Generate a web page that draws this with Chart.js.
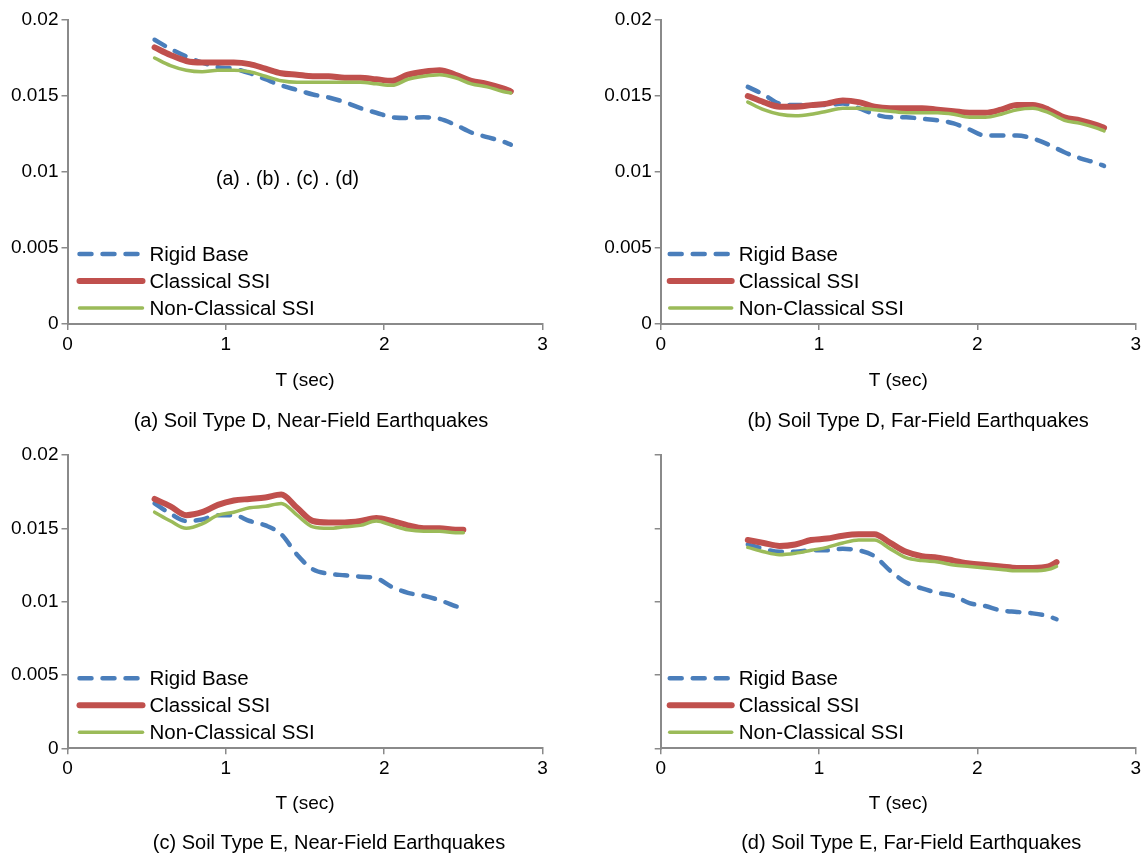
<!DOCTYPE html>
<html>
<head>
<meta charset="utf-8">
<script src="https://cdn.jsdelivr.net/npm/chart.js@4.4.1/dist/chart.umd.min.js"></script>
<style>
html,body{margin:0;padding:0;background:#fff;}
body{width:1146px;height:853px;position:relative;overflow:hidden;}
canvas{position:absolute;display:block;}
</style>
</head>
<body>
<canvas id="cA" width="575" height="433" style="left:0px;top:0px"></canvas>
<canvas id="cB" width="566" height="433" style="left:580px;top:0px"></canvas>
<canvas id="cC" width="575" height="420" style="left:0px;top:433px"></canvas>
<canvas id="cD" width="566" height="420" style="left:580px;top:433px"></canvas>
<script>
// ---------------- DATA ----------------
const seriesNames = ['Rigid Base', 'Classical SSI', 'Non-Classical SSI'];
const xTickLabels = ['0', '1', '2', '3'];
const yTickLabels = ['0', '0.005', '0.01', '0.015', '0.02'];
const xAxisTitle = 'T (sec)';
const captions = [
  '(a) Soil Type D, Near-Field Earthquakes',
  '(b) Soil Type D, Far-Field Earthquakes',
  '(c) Soil Type E, Near-Field Earthquakes',
  '(d) Soil Type E, Far-Field Earthquakes'
];
const annotationText = '(a) . (b) . (c) . (d)';

// periods T (sec)
const periodsD = [0.55,0.65,0.75,0.85,0.95,1.05,1.15,1.25,1.35,1.45,1.55,1.65,1.75,1.85,1.95,2.05,2.15,2.25,2.35,2.45,2.55,2.65,2.75,2.80];
const periodsE = [0.55,0.65,0.75,0.85,0.95,1.05,1.15,1.25,1.35,1.45,1.55,1.65,1.75,1.85,1.95,2.05,2.15,2.25,2.35,2.45,2.50];

// (a) Soil D, near-field
const rigidA        = [0.0187,0.0181,0.0176,0.0172,0.0169,0.0168,0.0165,0.0161,0.0157,0.0154,0.0151,0.0149,0.0146,0.0142,0.0139,0.0136,0.01355,0.0136,0.0135,0.0131,0.0126,0.0123,0.0120,0.0118];
const classicalA    = [0.0182,0.0177,0.0173,0.0172,0.0172,0.0172,0.0171,0.0168,0.0165,0.0164,0.0163,0.0163,0.0162,0.0162,0.0161,0.0160,0.0164,0.0166,0.0167,0.0164,0.0160,0.0158,0.0155,0.0153];
const nonClassicalA = [0.0175,0.0170,0.0167,0.0166,0.0167,0.0167,0.0166,0.0163,0.0160,0.0159,0.0159,0.0159,0.0159,0.0159,0.0158,0.0157,0.0161,0.0163,0.0164,0.0162,0.0158,0.0156,0.0153,0.0152];

// (b) Soil D, far-field
const rigidB        = [0.0156,0.0151,0.0145,0.0144,0.0144,0.0144,0.0145,0.0142,0.0138,0.0136,0.0136,0.0135,0.0134,0.0132,0.0128,0.0124,0.0124,0.0124,0.0122,0.0118,0.0113,0.0109,0.0106,0.0104];
const classicalB    = [0.0150,0.0146,0.0143,0.0143,0.0144,0.0145,0.0147,0.0146,0.0143,0.0142,0.0142,0.0142,0.0141,0.0140,0.0139,0.0139,0.0141,0.0144,0.0144,0.0141,0.0136,0.0134,0.0131,0.0129];
const nonClassicalB = [0.0146,0.0141,0.0138,0.0137,0.0138,0.0140,0.0142,0.0142,0.0141,0.0140,0.0139,0.0139,0.0139,0.0138,0.0136,0.0136,0.0138,0.0141,0.0142,0.0139,0.0134,0.0132,0.0129,0.0127];

// (c) Soil E, near-field
const rigidC        = [0.0167,0.0160,0.0155,0.0156,0.0159,0.0159,0.0155,0.0152,0.0146,0.0132,0.0122,0.0119,0.0118,0.0117,0.0116,0.0110,0.0106,0.0104,0.0101,0.0097,0.0095];
const classicalC    = [0.0170,0.0165,0.0159,0.0161,0.0166,0.0169,0.0170,0.0171,0.0173,0.0164,0.0155,0.0154,0.0154,0.0155,0.0157,0.0155,0.0152,0.0150,0.0150,0.0149,0.0149];
const nonClassicalC = [0.0161,0.0155,0.0150,0.0153,0.0159,0.0161,0.0164,0.0165,0.0167,0.0159,0.0151,0.0150,0.0151,0.0152,0.0155,0.0152,0.0149,0.0148,0.0148,0.0147,0.0147];

// (d) Soil E, far-field
const rigidD        = [0.0139,0.0136,0.0134,0.0134,0.0135,0.0135,0.0136,0.0135,0.0131,0.0121,0.0113,0.0109,0.0106,0.0104,0.0099,0.0097,0.0094,0.0093,0.0092,0.0090,0.0088];
const classicalD    = [0.0142,0.0140,0.0138,0.0139,0.0142,0.0143,0.0145,0.0146,0.0146,0.0140,0.0134,0.0131,0.0130,0.0128,0.0126,0.0125,0.0124,0.0123,0.0123,0.0124,0.0127];
const nonClassicalD = [0.0137,0.0134,0.0132,0.0133,0.0135,0.0137,0.0140,0.0142,0.0142,0.0136,0.0130,0.0128,0.0127,0.0125,0.0124,0.0123,0.0122,0.0121,0.0121,0.0122,0.0124];

// ---------------- STYLE ----------------
const FONT = '"Liberation Sans", Arial, Helvetica, sans-serif';
const AXIS = '#8a8a8a';
const seriesStyles = [
  {color:'#4A7EBB', width:4.5, dash:[12, 11], order:3},
  {color:'#C0504D', width:6,   dash:[],       order:2},
  {color:'#9BBB59', width:3.5, dash:[],       order:1}
];

const decorPlugin = {
  id: 'decor',
  afterDraw(chart, args, o) {
    const ctx = chart.ctx, ca = chart.chartArea;
    ctx.save();
    // legend inside plot area
    chart.data.datasets.forEach((ds, i) => {
      const y = ca.bottom - o.legendRows[i];
      ctx.beginPath();
      ctx.strokeStyle = ds.borderColor;
      ctx.lineWidth = ds.borderWidth;
      ctx.lineCap = 'round';
      ctx.setLineDash(ds.borderDash || []);
      ctx.moveTo(ca.left + o.legendX0, y);
      ctx.lineTo(ca.left + o.legendX1, y);
      ctx.stroke();
      ctx.setLineDash([]);
      ctx.fillStyle = '#000';
      ctx.font = '20.5px ' + FONT;
      ctx.textAlign = 'left';
      ctx.textBaseline = 'middle';
      ctx.fillText(ds.label, ca.left + o.legendText, y + 1);
    });
    // caption
    ctx.fillStyle = '#000';
    ctx.font = '20px ' + FONT;
    ctx.textAlign = 'center';
    ctx.textBaseline = 'middle';
    ctx.fillText(o.caption, (ca.left + ca.right) / 2 + o.captionDx, ca.bottom + o.captionDy);
    if (o.annotation) {
      ctx.font = '19.5px ' + FONT;
      ctx.fillText(o.annotation, ca.left + o.annX, ca.top + o.annY);
    }
    ctx.restore();
  }
};

function makeChart(id, periods, values, cfg) {
  const datasets = values.map((vals, i) => ({
    label: seriesNames[i],
    data: periods.map((t, k) => ({x: t, y: vals[k]})),
    borderColor: seriesStyles[i].color,
    backgroundColor: seriesStyles[i].color,
    borderWidth: seriesStyles[i].width,
    borderDash: seriesStyles[i].dash,
    borderCapStyle: 'round',
    borderJoinStyle: 'round',
    order: seriesStyles[i].order,
    pointRadius: 0,
    cubicInterpolationMode: 'monotone',
    fill: false
  }));
  const tickFont = {family: FONT, size: 19};
  return new Chart(document.getElementById(id), {
    type: 'line',
    data: {datasets},
    plugins: [decorPlugin],
    options: {
      responsive: false,
      animation: false,
      devicePixelRatio: 1,
      layout: {padding: cfg.padding},
      plugins: {
        legend: {display: false},
        tooltip: {enabled: false},
        title: {display: false},
        decor: cfg.decor
      },
      scales: {
        x: {
          type: 'linear', min: 0, max: 3,
          ticks: {stepSize: 1, autoSkip: false, maxRotation: 0, color: '#000', font: tickFont, padding: 3,
                  callback: (v) => xTickLabels[Math.round(v)]},
          grid: {drawOnChartArea: false, drawTicks: true, tickLength: 6, color: AXIS, lineWidth: 1.5},
          border: {display: true, color: AXIS, width: 2},
          title: {display: true, text: xAxisTitle, color: '#000', font: {family: FONT, size: 19, lineHeight: 1},
                  padding: {top: 0, bottom: cfg.titlePad}},
          afterFit: (s) => { s.height = cfg.xh; }
        },
        y: {
          type: 'linear', min: 0, max: 0.02,
          ticks: {stepSize: 0.005, color: '#000', font: tickFont, padding: 3,
                  callback: (v) => cfg.showY ? yTickLabels[Math.round(v / 0.005)] : ''},
          grid: {drawOnChartArea: false, drawTicks: true, tickLength: 6, color: AXIS, lineWidth: 1.5},
          border: {display: true, color: AXIS, width: 2},
          afterFit: (s) => { s.width = cfg.yw; }
        }
      }
    }
  });
}

const legendLeft  = {legendRows: [70, 43, 16], legendX0: 12, legendX1: 75, legendText: 82};
const legendRight = {legendRows: [70, 43, 16], legendX0: 9,  legendX1: 71, legendText: 78};

makeChart('cA', periodsD, [rigidA, classicalA, nonClassicalA], {
  padding: {left: 0, top: 20, right: 32.5, bottom: 41}, yw: 67.5, xh: 68, titlePad: 1.5, showY: true,
  decor: Object.assign({caption: captions[0], captionDx: 6, captionDy: 97, annotation: annotationText, annX: 220, annY: 160}, legendLeft)
});
makeChart('cB', periodsD, [rigidB, classicalB, nonClassicalB], {
  padding: {left: 0, top: 20, right: 10.3, bottom: 41}, yw: 80.7, xh: 68, titlePad: 1.5, showY: true,
  decor: Object.assign({caption: captions[1], captionDx: 20, captionDy: 97}, legendRight)
});
makeChart('cC', periodsE, [rigidC, classicalC, nonClassicalC], {
  padding: {left: 0, top: 22, right: 32.5, bottom: 38.7}, yw: 67.5, xh: 66, titlePad: 0.8, showY: true,
  decor: Object.assign({caption: captions[2], captionDx: 24, captionDy: 94.7}, legendLeft)
});
makeChart('cD', periodsE, [rigidD, classicalD, nonClassicalD], {
  padding: {left: 0, top: 22, right: 10.3, bottom: 38.7}, yw: 80.7, xh: 66, titlePad: 0.8, showY: false,
  decor: Object.assign({caption: captions[3], captionDx: 13, captionDy: 94.7}, legendRight)
});
</script>
</body>
</html>
